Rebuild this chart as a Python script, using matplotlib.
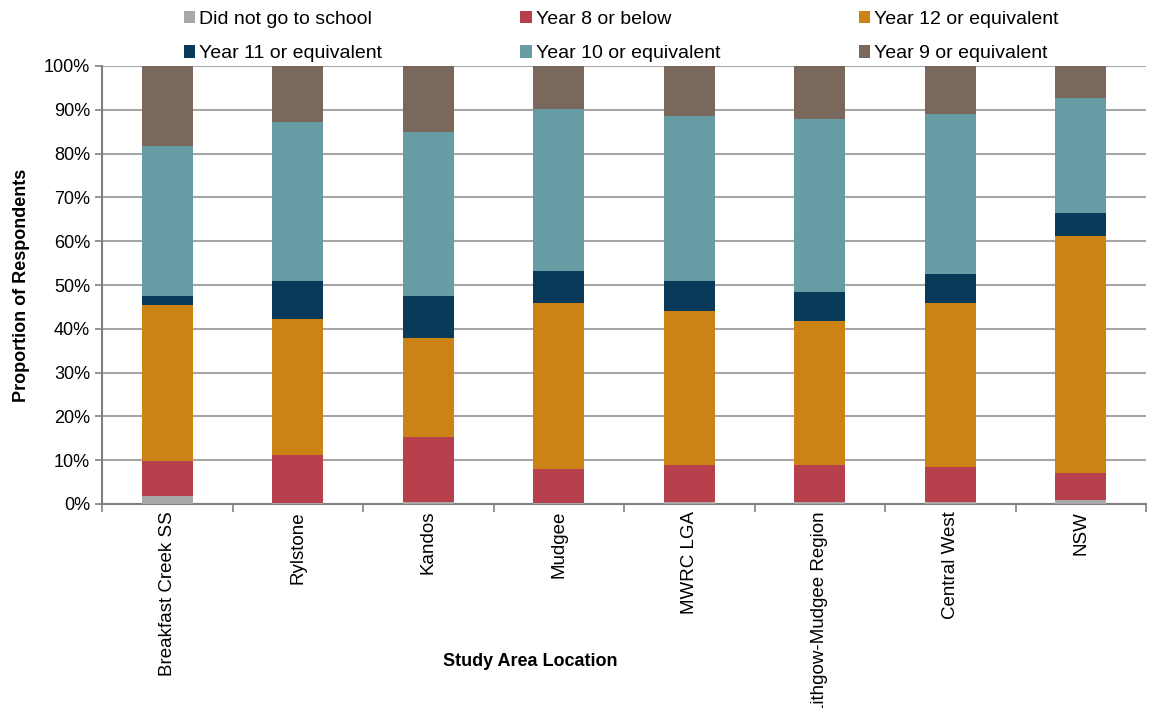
import matplotlib.pyplot as plt
import numpy as np

plt.rcParams['font.family'] = ['Liberation Sans', 'DejaVu Sans']

locations = ['Breakfast Creek SS', 'Rylstone', 'Kandos', 'Mudgee', 'MWRC LGA',
             'Lithgow-Mudgee Region', 'Central West', 'NSW']

# percentage of respondents, bottom to top of each stack
no_school = [1.8, 0.2, 0.5, 0.3, 0.4, 0.4, 0.4, 0.8]
year8 = [8.1, 11.0, 14.8, 7.6, 8.4, 8.6, 8.1, 6.3]
year12 = [35.5, 31.1, 22.5, 38.1, 35.2, 32.8, 37.5, 54.0]
year11 = [2.2, 8.5, 9.8, 7.2, 6.8, 6.7, 6.5, 5.3]
year10 = [34.1, 36.4, 37.4, 37.0, 37.8, 39.5, 36.6, 26.4]
year9 = [18.3, 12.8, 15.0, 9.8, 11.4, 12.0, 10.9, 7.2]

series = [
    ('Did not go to school', no_school, '#A8A8A8'),
    ('Year 8 or below', year8, '#B8404C'),
    ('Year 12 or equivalent', year12, '#CC8316'),
    ('Year 11 or equivalent', year11, '#0A3A5A'),
    ('Year 10 or equivalent', year10, '#669CA4'),
    ('Year 9 or equivalent', year9, '#7B685D'),
]

fig = plt.figure(figsize=(11.53, 7.08), dpi=100)
ax = fig.add_axes([102 / 1153, 1 - 504 / 708, 1044 / 1153, 438 / 708])

x = np.arange(len(locations))
bottom = np.zeros(len(locations))
handles = {}
for name, vals, col in series:
    vals = np.array(vals)
    h = ax.bar(x, vals, width=0.39, bottom=bottom, color=col, label=name, zorder=3)
    handles[name] = h
    bottom += vals

ax.set_ylim(0, 100)
ax.set_xlim(-0.5, len(locations) - 0.5)
ax.set_yticks(np.arange(0, 101, 10))
ax.set_yticklabels(['%d%%' % v for v in range(0, 101, 10)], fontsize=13)
ax.yaxis.grid(True, color='#A6A6A6', linewidth=1.5, zorder=0)

ax.set_xticks(x)
ax.set_xticklabels(locations, rotation=90, fontsize=13.5)
ax.tick_params(axis='x', length=0, pad=5)
ax.set_xticks(np.arange(-0.5, len(locations) + 0.5, 1), minor=True)
ax.tick_params(axis='x', which='minor', length=6, color='#808080', width=1.2)
ax.tick_params(axis='y', length=5, color='#808080', width=1.2)

for s in ['top', 'right']:
    ax.spines[s].set_visible(False)
for s in ['left', 'bottom']:
    ax.spines[s].set_color('#808080')
    ax.spines[s].set_linewidth(1.5)

ax.set_ylabel('Proportion of Respondents', fontsize=13, fontweight='bold', labelpad=10)
fig.text(0.46, 1 - 662 / 708, 'Study Area Location', fontsize=13, fontweight='bold',
         ha='center', va='center')

order = ['Did not go to school', 'Year 11 or equivalent', 'Year 8 or below',
         'Year 10 or equivalent', 'Year 12 or equivalent', 'Year 9 or equivalent']
fig.legend([handles[n] for n in order], order, ncol=3, frameon=False, fontsize=14,
           loc='upper left', bbox_to_anchor=(176 / 1153, 1 - 3 / 708),
           bbox_transform=fig.transFigure,
           handlelength=0.6, handleheight=0.6, handletextpad=0.2,
           columnspacing=7.1, labelspacing=0.9, borderaxespad=0.0)

fig.savefig('out.png', dpi=100)
